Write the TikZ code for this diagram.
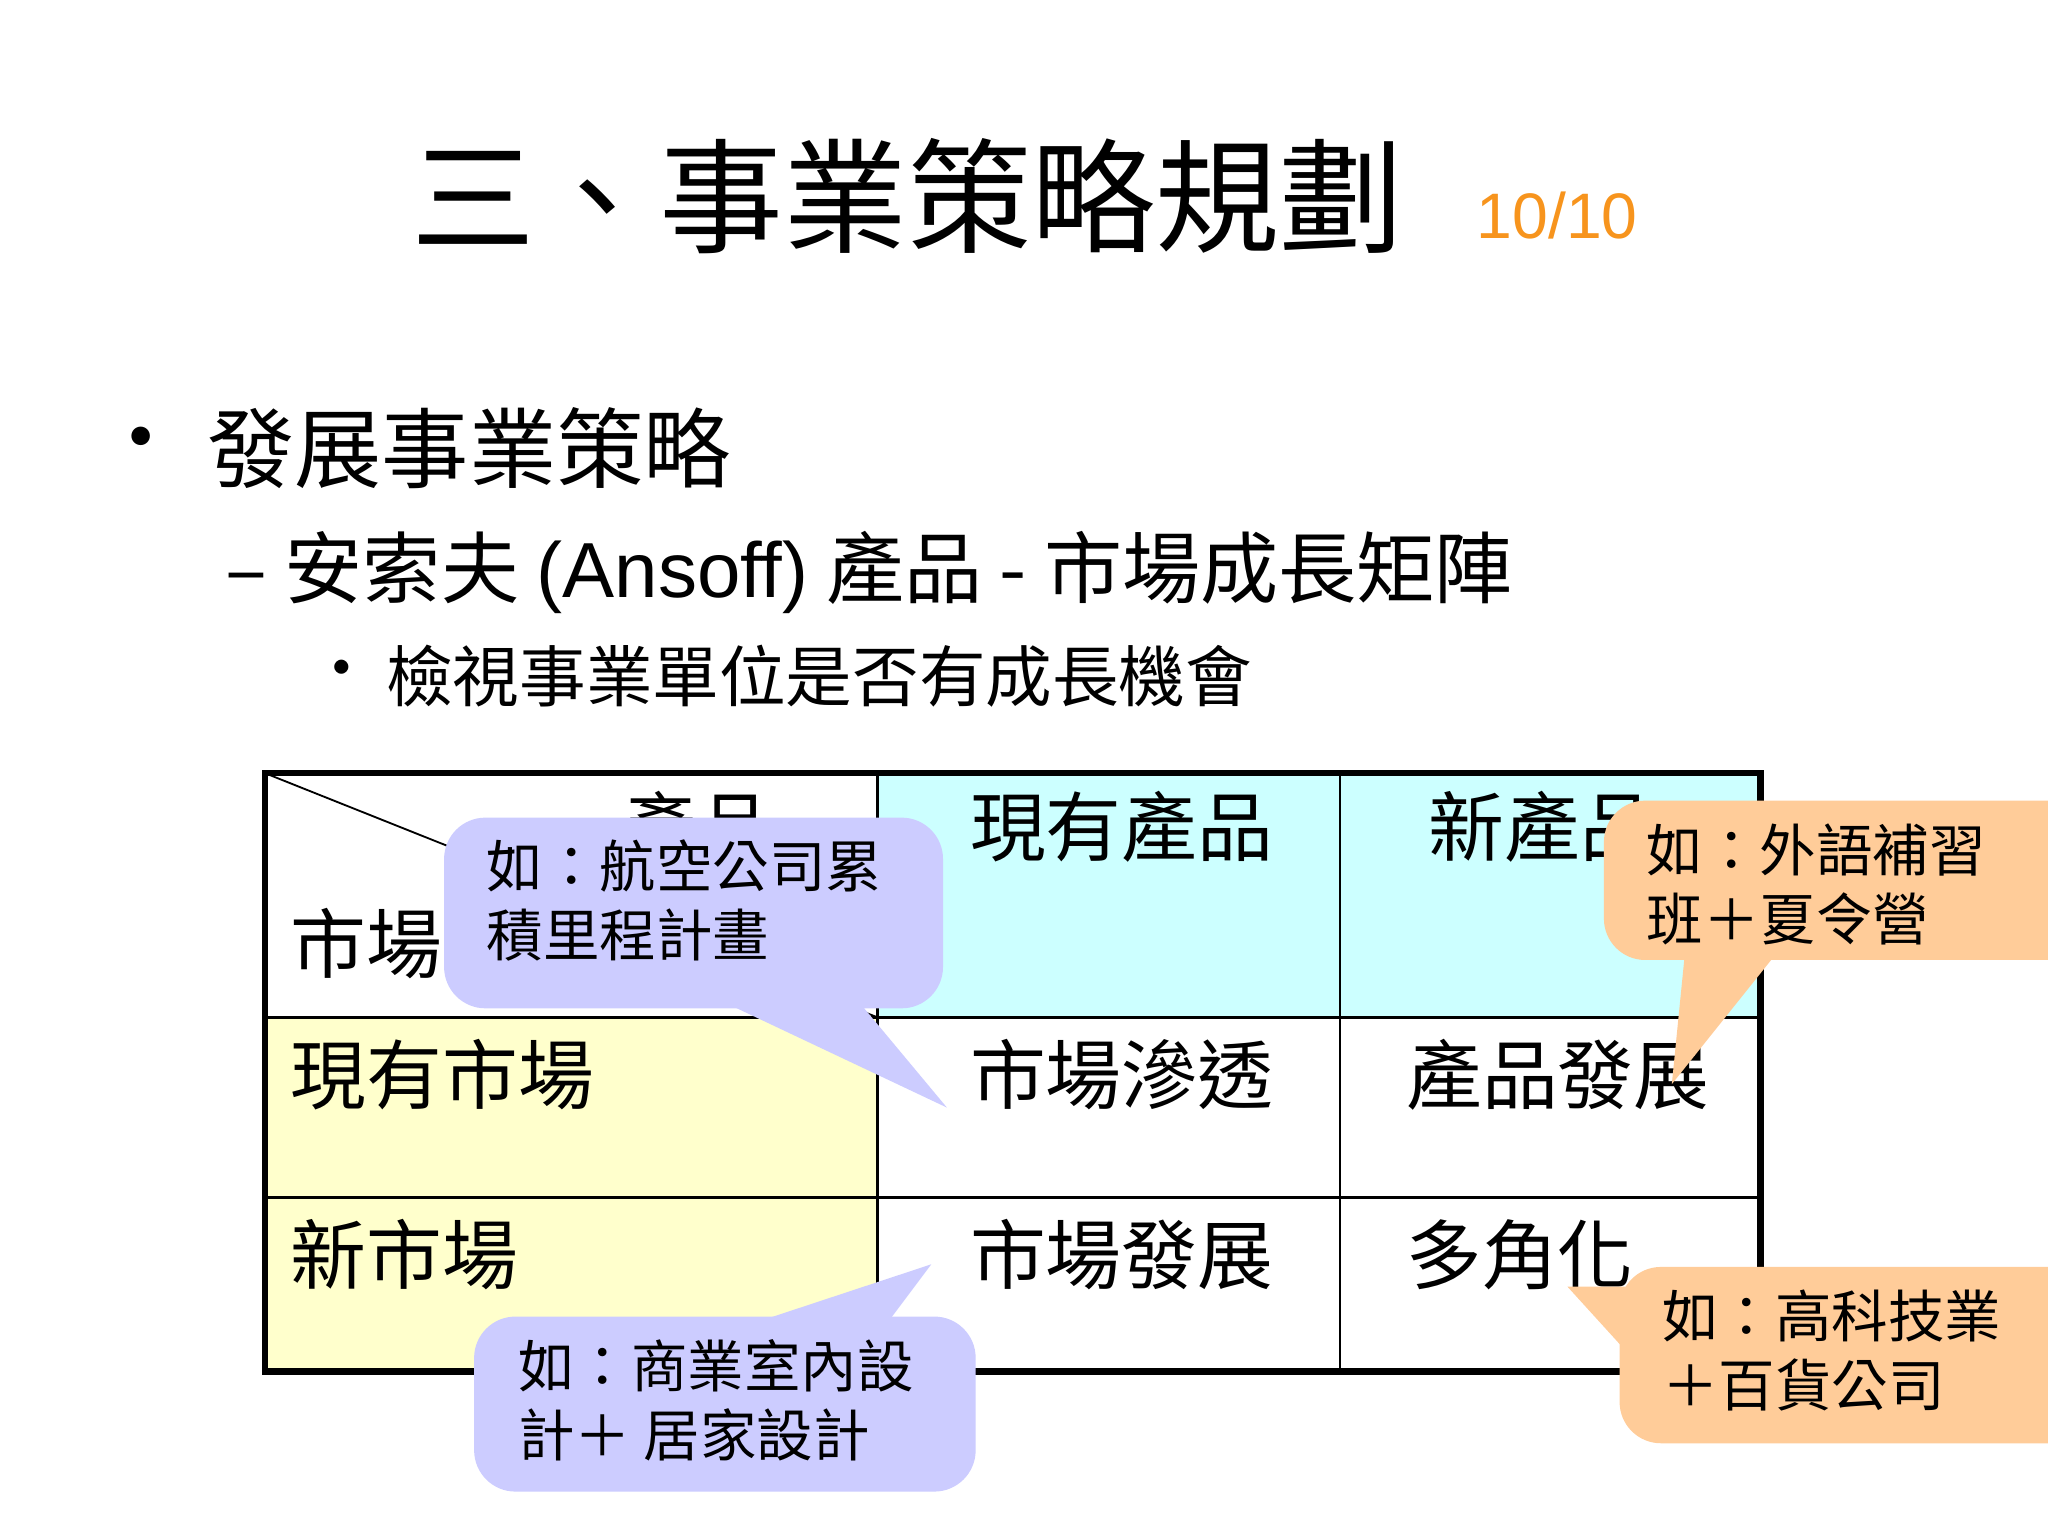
\documentclass[tikz,border=0pt]{standalone}
\usepackage{fontspec}
\setmainfont{Noto Sans CJK TC}
\newfontfamily\lat{Liberation Sans}
\definecolor{cy}{HTML}{CCFFFF}
\definecolor{ye}{HTML}{FFFFCC}
\definecolor{pu}{HTML}{CCCCFF}
\definecolor{orb}{HTML}{FFCC99}
\definecolor{ora}{HTML}{F7941D}
\tikzset{
 cell/.style={anchor=north west,inner sep=0pt,font=\fontsize{16.5pt}{18pt}\selectfont},
 call/.style={anchor=north west,inner sep=0pt,align=left,font=\fontsize{12.3pt}{15pt}\selectfont},
 bub/.style={rounded corners=9pt},
}
\begin{document}
\begin{tikzpicture}[x=0.01cm,y=-0.01cm]
\useasboundingbox (0,0) rectangle (1568,1176);
\fill[white] (0,0) rectangle (1568,1176);
\node[inner sep=0pt,font=\fontsize{27pt}{29pt}\selectfont] (title) at (695,150) {三、事業策略規劃};
\node[inner sep=0pt,anchor=west,text=ora,font=\lat\fontsize{14pt}{16pt}\selectfont] (pg) at (1130,165) {10/10};
\node[inner sep=0pt,font=\fontsize{19pt}{21pt}\selectfont] (d1) at (108,343) {•};
\node[inner sep=0pt,anchor=west,font=\fontsize{19pt}{21pt}\selectfont] (b1) at (158,343) {發展事業策略};
\node[inner sep=0pt,anchor=west,font=\fontsize{17pt}{19pt}\selectfont] (b2) at (172,438) {– 安索夫 {\lat(Ansoff)} 產品 - 市場成長矩陣};
\node[inner sep=0pt,font=\fontsize{14.5pt}{16pt}\selectfont] (d3) at (262,518) {•};
\node[inner sep=0pt,anchor=west,font=\fontsize{14.5pt}{16pt}\selectfont] (b3) at (295,518) {檢視事業單位是否有成長機會};
% table
\fill[cy] (672,592) rectangle (1348,779);
\fill[ye] (203,779) rectangle (672,1050);
\draw[line width=0.6pt] (672,592)--(672,1050) (1026,592)--(1026,1050) (203,779)--(1348,779) (203,917)--(1348,917);
\draw (203,592)--(672,779);
\draw[line width=1.4pt] (203,592) rectangle (1348,1050);
\node[cell] (hp) at (475,605) {產品};
\node[cell] (hm) at (222,695) {市場};
\node[cell] (c12) at (742,605) {現有產品};
\node[cell] (c13) at (1093,605) {新產品};
\node[cell] (c21) at (222,795) {現有市場};
\node[cell] (c22) at (742,795) {市場滲透};
\node[cell] (c23) at (1076,795) {產品發展};
\node[cell] (c31) at (222,933) {新市場};
\node[cell] (c32) at (742,933) {市場發展};
\node[cell] (c33) at (1076,933) {多角化};
% callouts
\coordinate (t1) at (725,848);
\fill[pu] (560,770)--(t1)--(660,770)--cycle;
\fill[pu,bub] (340,626) rectangle (722,772);
\node[call] (k1) at (372,642) {如：航空公司累\\積里程計畫};
\coordinate (t2) at (1280,830);
\fill[orb] (1290,730)--(t2)--(1360,730)--cycle;
\fill[orb,bub] (1228,613) rectangle (1600,735);
\node[call] (k2) at (1260,630) {如：外語補習\\班＋夏令營};
\coordinate (t3) at (713,968);
\fill[pu] (580,1012)--(t3)--(680,1012)--cycle;
\fill[pu,bub] (363,1008) rectangle (747,1142);
\node[call] (k3) at (396,1025) {如：商業室內設\\計＋ 居家設計};
\coordinate (t4) at (1200,985);
\fill[orb] (1250,985)--(t4)--(1250,1040)--cycle;
\fill[orb,bub] (1240,970) rectangle (1600,1105);
\node[call] (k4) at (1272,987) {如：高科技業\\＋百貨公司};
\end{tikzpicture}
\end{document}
